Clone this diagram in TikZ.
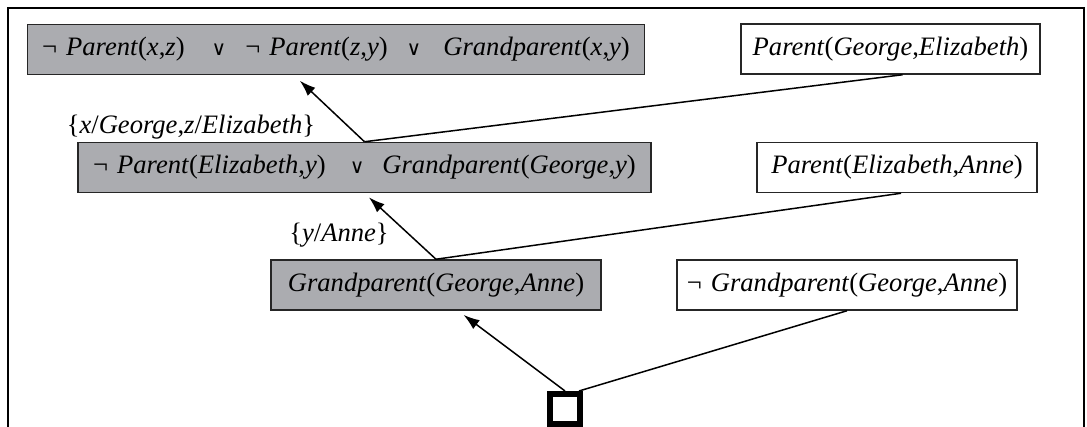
\documentclass[tikz,border=0pt]{standalone}
\usepackage{fontspec}
\setmainfont{Liberation Serif}
\newfontfamily\symfont{DejaVu Sans}
\usepackage{xcolor}
\usetikzlibrary{arrows.meta, positioning, calc}

\definecolor{clausegray}{RGB}{171,172,176}
\newcommand{\pform}[3]{\textit{#1}(\textit{#2},\textit{#3})}
\newcommand{\orsym}{{\symfont\fontsize{10}{10}\selectfont ∨}}
\newcommand{\notsym}{¬\hspace{4.5pt}}

\begin{document}
\begin{tikzpicture}[
    x=0.5pt, y=-0.5pt,
    clause/.style={draw=black!85,line width=0.75pt,minimum height=25pt,
                   inner sep=0pt,font=\fontsize{13.3}{15}\selectfont},
    derived/.style={clause,fill=clausegray},
    given/.style={clause,fill=white},
    subst/.style={inner sep=0pt,font=\fontsize{13.3}{15}\selectfont},
    arr/.style={-{Latex[length=8pt,width=5.5pt]},line width=0.75pt},
    link/.style={line width=0.75pt}
  ]
    \useasboundingbox (0,0) rectangle (1087,427);
    \draw[line width=1pt] (8,427) -- (8,8) -- (1084,8) -- (1084,427);

    % resolution steps
    \node[derived,minimum width=308.5pt] (rule) at (336,49.5)
      {\notsym\textit{Parent}(\textit{x},\textit{z})\hspace{13.5pt}\orsym\hspace{9.5pt}\notsym\textit{Parent}(\textit{z},\textit{y})\hspace{9.5pt}\orsym\hspace{11pt}\textit{Grandparent}(\textit{x},\textit{y})};
    \node[given,minimum width=149.5pt] (pge) at (890.5,49)
      {\pform{Parent}{George}{Elizabeth}};

    \node[derived,minimum width=286.5pt] (step1) at (364.5,167.5)
      {\notsym\textit{Parent}(\textit{Elizabeth},\textit{y})\hspace{12pt}\orsym\hspace{9pt}\textit{Grandparent}(\textit{George},\textit{y})};
    \node[given,minimum width=140pt] (pea) at (897,167.5)
      {\pform{Parent}{Elizabeth}{Anne}};

    \node[derived,minimum width=165pt] (step2) at (436,285)
      {\pform{Grandparent}{George}{Anne}};
    \node[given,minimum width=170pt] (goal) at (847,285)
      {\notsym\pform{Grandparent}{George}{Anne}};

    \node[draw,line width=3pt,minimum size=15pt,inner sep=0pt] (empty) at (565,409) {};

    \node[subst] (s1) at (191,127) {\{\textit{x}/\textit{George},\textit{z}/\textit{Elizabeth}\}};
    \node[subst] (s2) at (339,235) {\{\textit{y}/\textit{Anne}\}};

    \draw[arr,shorten >=4pt] (step1.north) -- ([xshift=-21pt]rule.south);
    \draw[link] ([xshift=6pt]pge.south) -- (step1.north);
    \draw[arr,shorten >=3pt] (step2.north) -- (step1.south);
    \draw[link] ([xshift=2pt]pea.south) -- (step2.north);
    \draw[arr,shorten >=3.5pt] (empty.north) -- ([xshift=11pt]step2.south);
    \draw[link] (goal.south) -- ([xshift=-2pt]empty.north east);
  \end{tikzpicture}
\end{document}
